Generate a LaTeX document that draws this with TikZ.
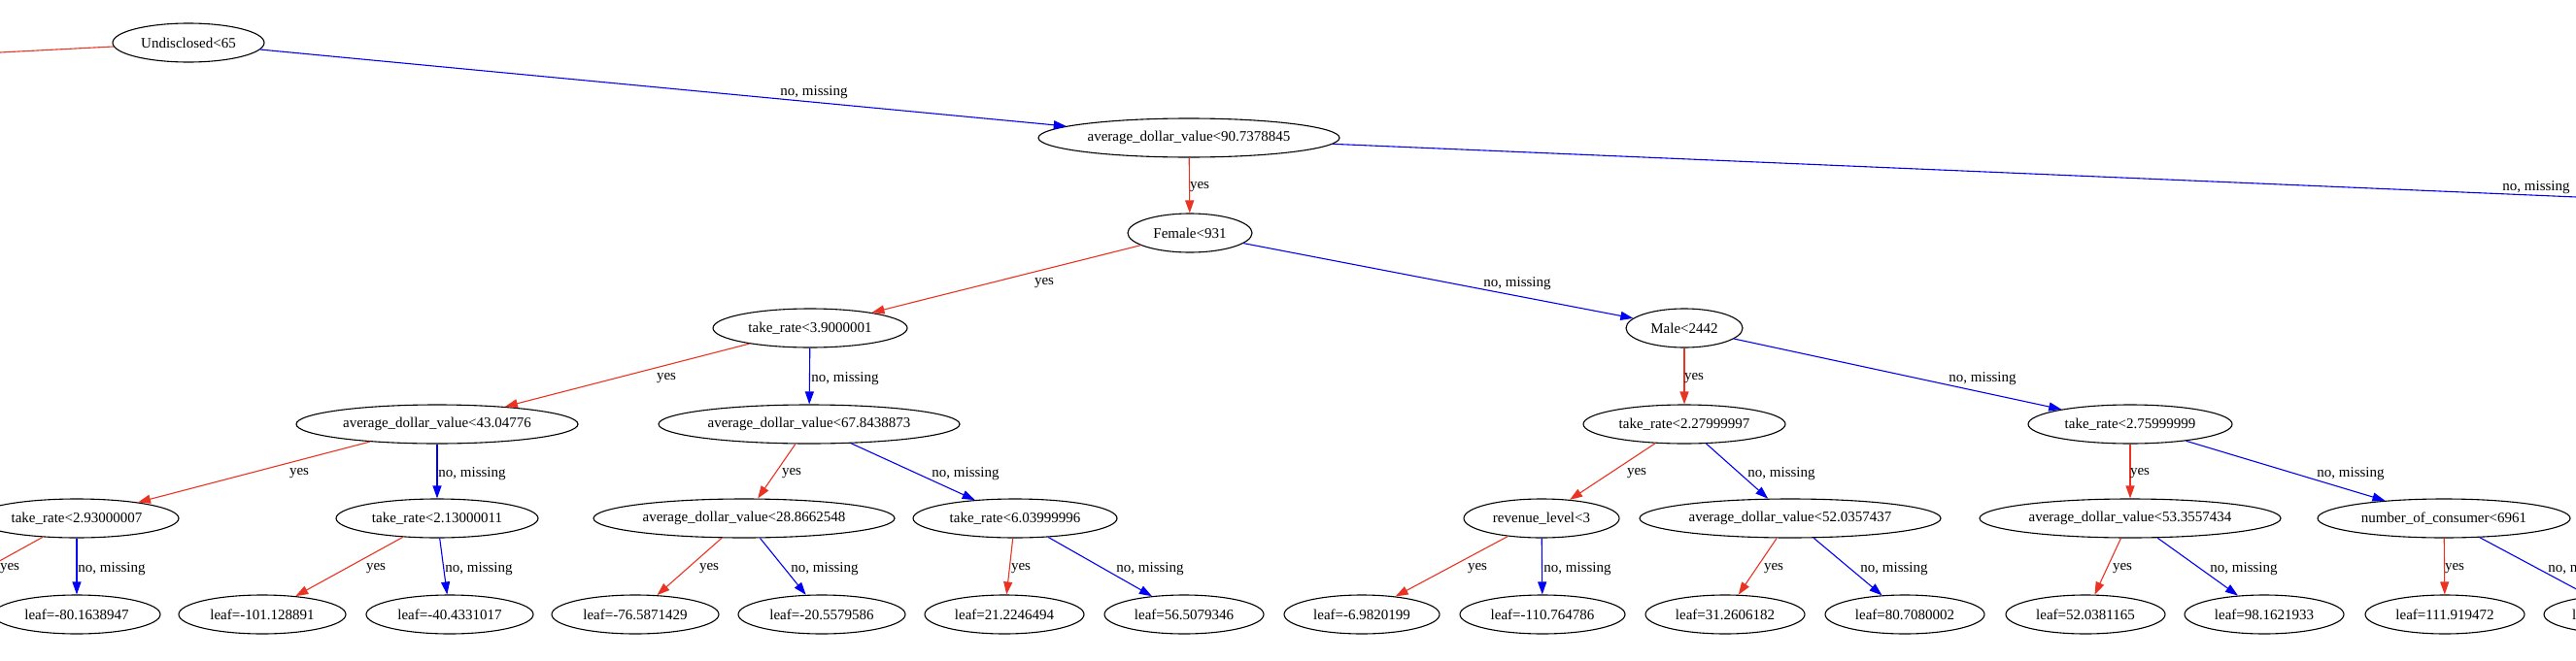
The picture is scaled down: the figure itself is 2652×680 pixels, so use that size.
\documentclass[tikz,border=0pt]{standalone}
\usepackage{fontspec}
\setmainfont{Liberation Serif}
\usetikzlibrary{shapes.geometric,arrows.meta}
\definecolor{yesred}{RGB}{234,51,35}
\definecolor{noblue}{RGB}{0,0,245}
\begin{document}
\begin{tikzpicture}[x=1pt,y=-1pt,
  tn/.style={draw=black, line width=1.1pt, ellipse, inner sep=0pt, minimum height=40pt, font=\fontsize{15}{18}\selectfont},
  yesE/.style={draw=yesred, line width=1.1pt, -{Triangle[length=13pt,width=9pt]}, color=yesred},
  noE/.style={draw=noblue, line width=1.1pt, -{Triangle[length=13pt,width=9pt]}, color=noblue},
  lbl/.style={inner sep=0pt, font=\fontsize{15}{18}\selectfont, text=black}]
\useasboundingbox (0,0) rectangle (2652,680);
\fill[white] (0,0) rectangle (2652,680);
\clip (0,0) rectangle (2652,680);

% level 0
\node[tn, minimum width=156pt] (U) at (194,44) {Undisclosed<65};
% level 1
\node[tn, minimum width=160pt] (LR) at (-1707,142) {};
\node[tn, minimum width=310pt] (A90) at (1224,142) {average\_dollar\_value<90.7378845};
% level 2
\node[tn, minimum width=128pt] (F) at (1225,240) {Female<931};
\node[tn, minimum width=200pt] (RR) at (3519,240) {};
% level 3
\node[tn, minimum width=200pt] (T39) at (834,338) {take\_rate<3.9000001};
\node[tn, minimum width=120pt] (M) at (1734,338) {Male<2442};
% level 4
\node[tn, minimum width=290pt] (A43) at (450,437) {average\_dollar\_value<43.04776};
\node[tn, minimum width=310pt] (A67) at (833,437) {average\_dollar\_value<67.8438873};
\node[tn, minimum width=208pt] (T228) at (1734,437) {take\_rate<2.27999997};
\node[tn, minimum width=210pt] (T276) at (2193,437) {take\_rate<2.75999999};
% level 5
\node[tn, minimum width=210pt] (T293) at (79,534) {take\_rate<2.93000007};
\node[tn, minimum width=208pt] (T213) at (450,534) {take\_rate<2.13000011};
\node[tn, minimum width=310pt] (A28) at (766,534) {average\_dollar\_value<28.8662548};
\node[tn, minimum width=210pt] (T604) at (1045,534) {take\_rate<6.03999996};
\node[tn, minimum width=160pt] (R) at (1587,534) {revenue\_level<3};
\node[tn, minimum width=310pt] (A52) at (1843,534) {average\_dollar\_value<52.0357437};
\node[tn, minimum width=310pt] (A53) at (2193,534) {average\_dollar\_value<53.3557434};
\node[tn, minimum width=260pt] (NC) at (2516,534) {number\_of\_consumer<6961};
% leaves
\node[tn, minimum width=172pt] (LL) at (-100,633) {};
\node[tn, minimum width=172pt] (L1) at (79,633) {leaf=-80.1638947};
\node[tn, minimum width=172pt] (L2) at (270,633) {leaf=-101.128891};
\node[tn, minimum width=172pt] (L3) at (463,633) {leaf=-40.4331017};
\node[tn, minimum width=172pt] (L4) at (654,633) {leaf=-76.5871429};
\node[tn, minimum width=172pt] (L5) at (846,633) {leaf=-20.5579586};
\node[tn, minimum width=164pt] (L6) at (1034,633) {leaf=21.2246494};
\node[tn, minimum width=164pt] (L7) at (1219,633) {leaf=56.5079346};
\node[tn, minimum width=160pt] (L8) at (1402,633) {leaf=-6.9820199};
\node[tn, minimum width=170pt] (L9) at (1588,633) {leaf=-110.764786};
\node[tn, minimum width=164pt] (L10) at (1776,633) {leaf=31.2606182};
\node[tn, minimum width=164pt] (L11) at (1961,633) {leaf=80.7080002};
\node[tn, minimum width=164pt] (L12) at (2147,633) {leaf=52.0381165};
\node[tn, minimum width=164pt] (L13) at (2331,633) {leaf=98.1621933};
\node[tn, minimum width=164pt] (L14) at (2517,633) {leaf=111.919472};
\node[tn, minimum width=164pt] (L15) at (2701,633) {};
\node[lbl, anchor=west] (L15t) at (2648,633) {leaf=};

% edges
\draw[yesE] (U) -- (LR);
\draw[noE] (U) -- (A90);
\draw[yesE] (A90) -- (F);
\draw[noE] (A90) -- (RR);
\draw[yesE] (F) -- (T39);
\draw[noE] (F) -- (M);
\draw[yesE] (T39) -- (A43);
\draw[noE] (T39) -- (A67);
\draw[yesE] (M) -- (T228);
\draw[noE] (M) -- (T276);
\draw[yesE] (A43) -- (T293);
\draw[noE] (A43) -- (T213);
\draw[yesE] (A67) -- (A28);
\draw[noE] (A67) -- (T604);
\draw[yesE] (T228) -- (R);
\draw[noE] (T228) -- (A52);
\draw[yesE] (T276) -- (A53);
\draw[noE] (T276) -- (NC);
\draw[yesE] (T293) -- (LL);
\draw[noE] (T293) -- (L1);
\draw[yesE] (T213) -- (L2);
\draw[noE] (T213) -- (L3);
\draw[yesE] (A28) -- (L4);
\draw[noE] (A28) -- (L5);
\draw[yesE] (T604) -- (L6);
\draw[noE] (T604) -- (L7);
\draw[yesE] (R) -- (L8);
\draw[noE] (R) -- (L9);
\draw[yesE] (A52) -- (L10);
\draw[noE] (A52) -- (L11);
\draw[yesE] (A53) -- (L12);
\draw[noE] (A53) -- (L13);
\draw[yesE] (NC) -- (L14);
\draw[noE] (NC) -- (L15);

% edge labels
\node[lbl] (e1) at (838,95) {no, missing};
\node[lbl] (e2) at (2611,193) {no, missing};
\node[lbl] (e3) at (1235,193) {yes};
\node[lbl] (e4) at (1075,292) {yes};
\node[lbl] (e5) at (1562,292) {no, missing};
\node[lbl] (e6) at (686,390) {yes};
\node[lbl] (e7) at (870,390) {no, missing};
\node[lbl] (e8) at (1744,390) {yes};
\node[lbl] (e9) at (2041,390) {no, missing};
\node[lbl] (e10) at (308,488) {yes};
\node[lbl] (e11) at (486,488) {no, missing};
\node[lbl] (e12) at (815,488) {yes};
\node[lbl] (e13) at (994,488) {no, missing};
\node[lbl] (e14) at (1685,488) {yes};
\node[lbl] (e15) at (1834,488) {no, missing};
\node[lbl] (e16) at (2203,488) {yes};
\node[lbl] (e17) at (2420,488) {no, missing};
\node[lbl] (e18) at (10,586) {yes};
\node[lbl] (e19) at (115,586) {no, missing};
\node[lbl] (e20) at (387,586) {yes};
\node[lbl] (e21) at (493,586) {no, missing};
\node[lbl] (e22) at (730,586) {yes};
\node[lbl] (e23) at (849,586) {no, missing};
\node[lbl] (e24) at (1051,586) {yes};
\node[lbl] (e25) at (1184,586) {no, missing};
\node[lbl] (e26) at (1521,586) {yes};
\node[lbl] (e27) at (1624,586) {no, missing};
\node[lbl] (e28) at (1826,586) {yes};
\node[lbl] (e29) at (1950,586) {no, missing};
\node[lbl] (e30) at (2185,586) {yes};
\node[lbl] (e31) at (2310,586) {no, missing};
\node[lbl] (e32) at (2527,586) {yes};
\node[lbl] (e33) at (2658,586) {no, missing};
\end{tikzpicture}
\end{document}
